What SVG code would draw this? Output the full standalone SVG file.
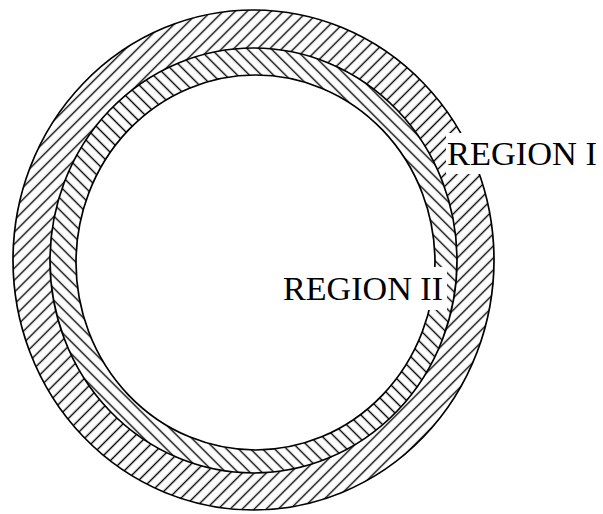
<svg xmlns="http://www.w3.org/2000/svg" width="603" height="514" viewBox="0 0 603 514">
<style>
.edge{fill:none;stroke:#000;stroke-width:1.7}
.lbl{font-family:"Liberation Serif","Times New Roman",serif;font-size:34px;fill:#000}
.mask{fill:#fff;stroke:none}
</style>
<defs>
<pattern id="hatchF" width="8.5" height="8.5" patternUnits="userSpaceOnUse" patternTransform="rotate(45)">
<line x1="4.25" y1="-1" x2="4.25" y2="9.5" stroke="#000" stroke-width="1.4"/>
</pattern>
<pattern id="hatchB" width="8.5" height="8.5" patternUnits="userSpaceOnUse" patternTransform="rotate(-45)">
<line x1="4.25" y1="-1" x2="4.25" y2="9.5" stroke="#000" stroke-width="1.4"/>
</pattern>
</defs>
<rect width="603" height="514" fill="#fff"/>
<g id="region-1">
<path fill="url(#hatchF)" fill-rule="evenodd" d="M13,260 A240.5,250 0 1 0 494,260 A240.5,250 0 1 0 13,260 Z M50,260.5 A203.5,212.5 0 1 0 457,260.5 A203.5,212.5 0 1 0 50,260.5 Z"/>
<ellipse class="edge" cx="253.5" cy="260" rx="240.5" ry="250"/>
</g>
<g id="region-2">
<path fill="url(#hatchB)" fill-rule="evenodd" d="M50,260.5 A203.5,212.5 0 1 0 457,260.5 A203.5,212.5 0 1 0 50,260.5 Z M76,262.5 A179.5,187.5 0 1 0 435,262.5 A179.5,187.5 0 1 0 76,262.5 Z"/>
<ellipse class="edge" cx="253.5" cy="260.5" rx="203.5" ry="212.5"/>
<ellipse class="edge" cx="255.5" cy="262.5" rx="179.5" ry="187.5"/>
</g>
<g id="label-region-1">
<rect class="mask" x="446" y="133" width="157" height="41"/>
<text class="lbl" x="447" y="165" textLength="150" lengthAdjust="spacingAndGlyphs">REGION I</text>
</g>
<g id="label-region-2">
<rect class="mask" x="277" y="267" width="170" height="43"/>
<text class="lbl" x="283" y="300" textLength="160" lengthAdjust="spacingAndGlyphs">REGION II</text>
</g>
</svg>
